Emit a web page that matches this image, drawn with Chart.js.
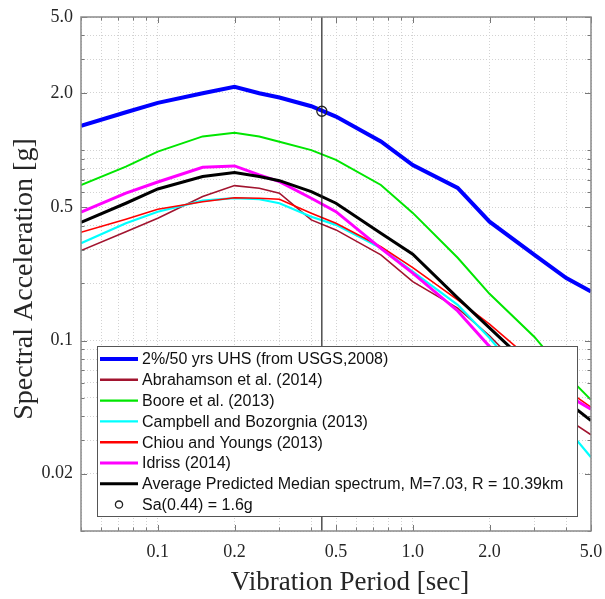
<!DOCTYPE html>
<html>
<head>
<meta charset="utf-8">
<script src="https://cdn.jsdelivr.net/npm/chart.js@4.4.1/dist/chart.umd.min.js"></script>
<style>
  html, body { margin: 0; padding: 0; background: #fff; }
  canvas { display: block; }
</style>
</head>
<body>
<canvas id="chart" width="605" height="599"></canvas>
<script>
// periods in sec, spectral acceleration in g
const periods = [0.05, 0.075, 0.1, 0.15, 0.2, 0.25, 0.3, 0.4, 0.5, 0.75, 1.0, 1.5, 2.0, 3.0, 4.0, 5.0];
const uhs        = [1.34, 1.58, 1.77, 1.99, 2.15, 1.99, 1.89, 1.70, 1.50, 1.11, 0.835, 0.633, 0.421, 0.282, 0.213, 0.181];
const abrahamson = [0.297, 0.373, 0.439, 0.570, 0.651, 0.630, 0.594, 0.430, 0.381, 0.282, 0.204, 0.148, 0.106, 0.061, 0.039, 0.032];
const boore      = [0.656, 0.819, 0.982, 1.18, 1.235, 1.18, 1.107, 1.0, 0.888, 0.656, 0.468, 0.272, 0.176, 0.1045, 0.066, 0.0488];
const campbell   = [0.324, 0.413, 0.475, 0.543, 0.559, 0.552, 0.526, 0.447, 0.405, 0.306, 0.230, 0.154, 0.103, 0.0546, 0.0349, 0.0244];
const chiou      = [0.370, 0.434, 0.489, 0.536, 0.562, 0.559, 0.552, 0.466, 0.413, 0.311, 0.2415, 0.1634, 0.122, 0.0766, 0.0551, 0.0447];
const idriss     = [0.472, 0.594, 0.68, 0.813, 0.826, 0.741, 0.683, 0.559, 0.475, 0.305, 0.226, 0.143, 0.093, 0.066, 0.052, 0.0436];
const average    = [0.418, 0.526, 0.625, 0.726, 0.762, 0.726, 0.691, 0.605, 0.526, 0.366, 0.284, 0.1675, 0.1166, 0.070, 0.048, 0.038];

const saPeriod = 0.44;
const saValue = 1.6;

const xRange = [0.05, 5.0];
const yRange = [0.01, 5.0];
const xTickLabels = [0.1, 0.2, 0.5, 1.0, 2.0, 5.0];
const yTickLabels = [0.02, 0.1, 0.5, 2.0, 5.0];

const legendLabels = [
  '2%/50 yrs UHS (from USGS,2008)',
  'Abrahamson et al. (2014)',
  'Boore et al. (2013)',
  'Campbell and Bozorgnia (2013)',
  'Chiou and Youngs (2013)',
  'Idriss (2014)',
  'Average Predicted Median spectrum, M=7.03, R = 10.39km',
  'Sa(0.44) = 1.6g'
];

function toPoints(values) {
  return periods.map((p, i) => ({ x: p, y: values[i] }));
}

// every 1..9 x 10^n value inside the range, for the log grid
function logGrid(min, max) {
  const out = [];
  for (let e = -3; e <= 2; e++) {
    for (let m = 1; m <= 9; m++) {
      const v = parseFloat((m * Math.pow(10, e)).toPrecision(3));
      if (v >= min - 1e-9 && v <= max + 1e-9) out.push(v);
    }
  }
  return out;
}

function fmt(v) {
  return v >= 1 ? v.toFixed(1) : String(v);
}

function isLabel(list, v) {
  return list.some(t => Math.abs(t - v) < 1e-9);
}

function line(label, values, color, width, order) {
  return {
    label: label,
    data: toPoints(values),
    borderColor: color,
    backgroundColor: color,
    borderWidth: width,
    pointRadius: 0,
    showLine: true,
    tension: 0,
    order: order
  };
}

const datasets = [
  line(legendLabels[0], uhs, '#0000ff', 4, 9),
  line(legendLabels[1], abrahamson, '#a2142f', 1.6, 8),
  line(legendLabels[2], boore, '#00e600', 2, 7),
  line(legendLabels[3], campbell, '#00ffff', 2.2, 6),
  line(legendLabels[4], chiou, '#ff0000', 1.6, 5),
  line(legendLabels[5], idriss, '#ff00ff', 3, 4),
  line(legendLabels[6], average, '#000000', 3, 3),
  {
    label: 'T = 0.44',
    data: [{ x: saPeriod, y: yRange[0] }, { x: saPeriod, y: yRange[1] }],
    borderColor: '#222',
    borderWidth: 1.2,
    pointRadius: 0,
    showLine: true,
    order: 2
  },
  {
    label: legendLabels[7],
    data: [{ x: saPeriod, y: saValue }],
    borderColor: '#222',
    backgroundColor: 'rgba(0,0,0,0)',
    pointRadius: 5,
    pointBorderWidth: 1.3,
    showLine: false,
    order: 1
  }
];

const textColor = '#262626';
const serif = '"Liberation Serif", "Times New Roman", serif';
const sans = '"Liberation Sans", Arial, sans-serif';

const decorPlugin = {
  id: 'decor',
  afterDatasetsDraw(chart) {
    const ctx = chart.ctx;
    const a = chart.chartArea;
    const xs = chart.scales.x, ys = chart.scales.y;
    ctx.save();

    // inward ticks, matlab style
    ctx.strokeStyle = '#777';
    ctx.lineWidth = 1;
    ctx.beginPath();
    logGrid(xRange[0], xRange[1]).forEach(v => {
      const px = Math.round(xs.getPixelForValue(v)) + 0.5;
      const len = isLabel(xTickLabels, v) ? 6 : 3.5;
      ctx.moveTo(px, a.bottom); ctx.lineTo(px, a.bottom - len);
      ctx.moveTo(px, a.top); ctx.lineTo(px, a.top + len);
    });
    logGrid(yRange[0], yRange[1]).forEach(v => {
      const py = Math.round(ys.getPixelForValue(v)) + 0.5;
      const len = isLabel(yTickLabels, v) ? 6 : 3.5;
      ctx.moveTo(a.left, py); ctx.lineTo(a.left + len, py);
      ctx.moveTo(a.right, py); ctx.lineTo(a.right - len, py);
    });
    ctx.stroke();

    // axes box
    ctx.strokeStyle = '#8a8a8a';
    ctx.lineWidth = 1.5;
    ctx.strokeRect(a.left, a.top, a.right - a.left, a.bottom - a.top);

    // legend box
    const lx = a.left + 16, ly = a.top + 329;
    const lw = a.right - 14 - lx, lh = a.bottom - 15 - ly;
    ctx.fillStyle = '#fff';
    ctx.fillRect(lx, ly, lw, lh);
    ctx.strokeStyle = '#555';
    ctx.lineWidth = 1;
    ctx.strokeRect(lx + 0.5, ly + 0.5, lw, lh);

    ctx.font = '16px ' + sans;
    ctx.textBaseline = 'middle';
    ctx.textAlign = 'left';
    const rowH = 20.8;
    chart.data.datasets.forEach(ds => {
      const k = legendLabels.indexOf(ds.label);
      if (k < 0) return;
      const y = ly + 13 + k * rowH;
      ctx.strokeStyle = ds.borderColor;
      if (ds.showLine) {
        ctx.lineWidth = Math.max(ds.borderWidth, 2.4);
        ctx.beginPath();
        ctx.moveTo(lx + 3, y);
        ctx.lineTo(lx + 41, y);
        ctx.stroke();
      } else {
        ctx.lineWidth = 1.3;
        ctx.beginPath();
        ctx.arc(lx + 22, y, 3.6, 0, Math.PI * 2);
        ctx.stroke();
      }
      ctx.fillStyle = '#111';
      ctx.fillText(ds.label, lx + 45, y + 1);
    });

    // axis titles
    ctx.fillStyle = textColor;
    ctx.font = '27px ' + serif;
    ctx.textAlign = 'center';
    ctx.textBaseline = 'middle';
    ctx.fillText('Vibration Period [sec]', 350, 583);
    ctx.font = '28px ' + serif;
    ctx.translate(25, (a.top + a.bottom) / 2 + 5);
    ctx.rotate(-Math.PI / 2);
    ctx.fillText('Spectral Acceleration [g]', 0, 0);
    ctx.restore();
  }
};

new Chart(document.getElementById('chart'), {
  type: 'scatter',
  data: { datasets: datasets },
  options: {
    responsive: false,
    animation: false,
    devicePixelRatio: 1,
    layout: { padding: { top: 17, right: 14, left: 0, bottom: 0 } },
    plugins: {
      legend: { display: false },
      tooltip: { enabled: false }
    },
    scales: {
      x: {
        type: 'logarithmic',
        min: xRange[0],
        max: xRange[1],
        afterBuildTicks: scale => {
          scale.ticks = logGrid(xRange[0], xRange[1]).map(v => ({ value: v }));
        },
        afterFit: scale => {
          scale.height = 68;
          scale.paddingLeft = 0;
          scale.paddingRight = 0;
        },
        ticks: {
          autoSkip: false,
          maxRotation: 0,
          padding: 10,
          color: textColor,
          font: { family: serif, size: 18 },
          callback: v => isLabel(xTickLabels, v) ? fmt(v) : ''
        },
        grid: { color: '#d2d2d2', lineWidth: 1, drawTicks: false },
        border: { display: false, dash: [1, 2] }
      },
      y: {
        type: 'logarithmic',
        min: yRange[0],
        max: yRange[1],
        afterBuildTicks: scale => {
          scale.ticks = logGrid(yRange[0], yRange[1]).map(v => ({ value: v }));
        },
        afterFit: scale => {
          scale.width = 81;
          scale.paddingTop = 0;
          scale.paddingBottom = 0;
        },
        ticks: {
          autoSkip: false,
          padding: 8,
          color: textColor,
          font: { family: serif, size: 18 },
          callback: v => isLabel(yTickLabels, v) ? fmt(v) : ''
        },
        grid: { color: '#d2d2d2', lineWidth: 1, drawTicks: false },
        border: { display: false, dash: [1, 2] }
      }
    }
  },
  plugins: [decorPlugin]
});
</script>
</body>
</html>
